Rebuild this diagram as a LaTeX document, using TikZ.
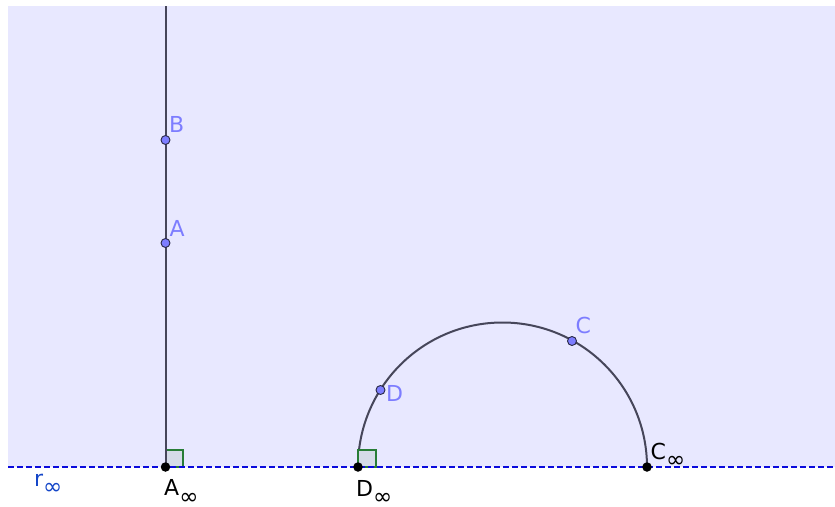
\documentclass[tikz,border=0pt]{standalone}
\usepackage{fontspec}
\setmainfont{DejaVu Sans}
\definecolor{bgcol}{RGB}{232,232,255}
\definecolor{linecol}{RGB}{70,70,90}
\definecolor{ptfill}{RGB}{125,125,255}
\definecolor{ptdraw}{RGB}{40,40,70}
\definecolor{lblcol}{RGB}{125,125,255}
\definecolor{dashcol}{RGB}{10,10,220}
\definecolor{rcol}{RGB}{20,70,200}
\definecolor{sqdraw}{RGB}{40,125,55}
\definecolor{sqfill}{RGB}{213,219,232}
\pgfdeclarelayer{bg}
\pgfsetlayers{bg,main}
\newcommand{\infsub}{\raisebox{-8.5pt}{\fontsize{23}{23}\selectfont ∞}}
\tikzset{
  freept/.style={circle,draw=ptdraw,fill=ptfill,line width=0.9pt,inner sep=0pt,minimum size=9pt},
  fixpt/.style={circle,fill=black,inner sep=0pt,minimum size=9.5pt},
  geoline/.style={draw=linecol,line width=2pt},
  horline/.style={draw=dashcol,line width=2pt,dash pattern=on 6pt off 3pt},
  rightang/.style={draw=sqdraw,fill=sqfill,line width=2pt},
  ptlabel/.style={anchor=base west,inner sep=0pt,text=lblcol,font=\fontsize{22}{26}\selectfont},
  inflabel/.style={anchor=base west,inner sep=0pt,text=black,font=\fontsize{22}{26}\selectfont},
}
\begin{document}
\begin{tikzpicture}[x=1pt,y=-1pt]
\useasboundingbox (0,0) rectangle (835,506);
% points
\node[freept] (B) at (165.5,140) {};
\node[freept] (A) at (165.5,243) {};
\node[freept] (C) at (572,341) {};
\node[freept] (D) at (380.5,390) {};
\node[fixpt] (Ainf) at (165.5,467) {};
\node[fixpt] (Dinf) at (358,467) {};
\node[fixpt] (Cinf) at (647,467) {};
\coordinate (top) at (165.5,6);
\coordinate (rl) at (8,467);
\coordinate (rr) at (835,467);
\begin{pgfonlayer}{bg}
  \fill[bgcol] (8,6) rectangle (835,467);
  \path[geoline] (Dinf.center) arc[start angle=180,end angle=360,radius=144.5];
  \path[rightang] (Ainf.center) rectangle ++(17.5,-17.5);
  \path[rightang] (Dinf.center) rectangle ++(17.5,-17.5);
  \path[geoline] (top) -- (B.center) -- (A.center) -- (Ainf.center);
  \path[horline] (rl) -- (rr);
\end{pgfonlayer}
% labels
\node[ptlabel] (lB) at (169,132.3) {B};
\node[ptlabel] (lA) at (169.5,236.5) {A};
\node[ptlabel] (lC) at (575.5,333.3) {C};
\node[ptlabel] (lD) at (386,401.7) {D};
\node[inflabel] (lCinf) at (650.5,459.3) {C\infsub};
\node[inflabel] (lDinf) at (356,496) {D\infsub};
\node[inflabel] (lAinf) at (164,495.5) {A\infsub};
\node[inflabel,text=rcol] (lr) at (34,486) {r\infsub};
\end{tikzpicture}
\end{document}
